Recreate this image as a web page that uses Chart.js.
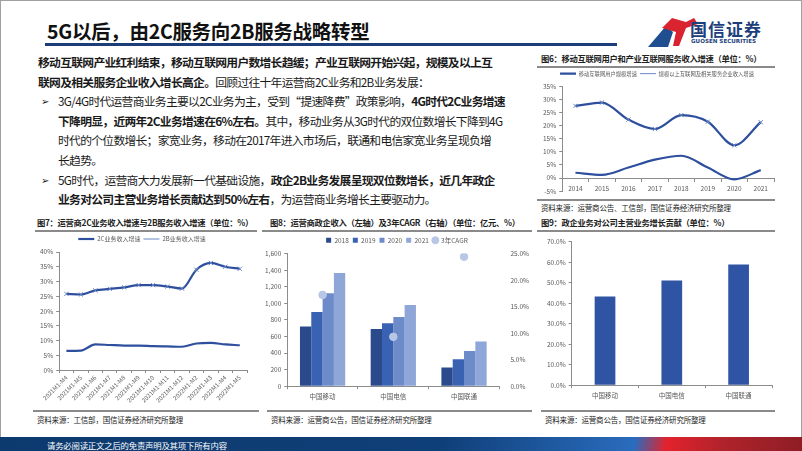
<!DOCTYPE html>
<html>
<head>
<meta charset="utf-8">
<script src="https://cdn.jsdelivr.net/npm/chart.js@4.4.0/dist/chart.umd.min.js"></script>
<style>
  html, body { margin: 0; padding: 0; }
  body { width: 802px; height: 451px; position: relative; overflow: hidden; background: #fff;
         font-family: 'Noto Sans CJK SC', 'Noto Sans', sans-serif; color: #1a1a1a; }
  .frame { position: absolute; left: 0; top: 0; width: 800px; height: 449px; border: 1px solid #a0a0a0; }
  .abs { position: absolute; }
  .title { left: 47px; top: 16px; font-size: 19.5px; font-weight: bold; color: #111; letter-spacing: -0.3px; }
  .title-line { left: 45px; top: 43px; width: 572px; height: 3px; background: #1d3d78; }
  .body-text { left: 38px; top: 52px; font-size: 11.8px; letter-spacing: -0.72px; line-height: 19.6px; white-space: nowrap; }
  .body-text .ind { padding-left: 20px; position: relative; }
  .body-text .bul { position: absolute; left: 3px; top: 0; font-size: 10px; }
  .ftitle { font-size: 8.3px; font-weight: bold; color: #222; white-space: nowrap; letter-spacing: -0.3px; }
  .hline { height: 1.5px; background: #8a8a8a; }
  .src { font-size: 7.5px; color: #222; white-space: nowrap; letter-spacing: -0.2px; }
  .footer { left: 0; top: 437px; width: 802px; height: 14px;
            background: linear-gradient(100deg, #0d3a6e 0%, #0f3f78 55%, #2a6cbd 79%, #e3222c 83%, #b0232b 90%, #8e1d25 100%); }
  .footer span { position: absolute; left: 47px; top: 2px; font-size: 8.4px; color: #fff; letter-spacing: -0.2px; }
  .chart { position: absolute; }
</style>
</head>
<body>
<div class="frame"></div>

<div class="abs title">5G以后，由2C服务向2B服务战略转型</div>
<div class="abs title-line"></div>

<svg class="abs" style="left:646px;top:14px" width="56" height="34" viewBox="0 0 56 34">
  <polygon points="2,33 20,12 27,18 22,33" fill="#1f4e91"/>
  <polygon points="16,14 26,4 40,8 48,4 52,10 40,14 33,32 27,32 30,18" fill="#d9232e"/>
</svg>
<div class="abs" style="left:690px;top:16px;font-size:17px;font-weight:bold;color:#1d3f7c;letter-spacing:1px">国信证券</div>
<div class="abs" style="left:691px;top:38px;font-size:5.6px;font-weight:bold;color:#1d3f7c;font-family:'DejaVu Sans',sans-serif">GUOSEN SECURITIES</div>

<div class="abs body-text">
  <div><b>移动互联网产业红利结束，移动互联网用户数增长趋缓；产业互联网开始兴起，规模及以上互</b></div>
  <div><b>联网及相关服务企业收入增长高企。</b>回顾过往十年运营商2C业务和2B业务发展：</div>
  <div class="ind"><span class="bul">➢</span>3G/4G时代运营商业务主要以2C业务为主，受到“提速降费”政策影响，<b>4G时代2C业务增速</b></div>
  <div class="ind"><b>下降明显，近两年2C业务增速在6%左右。</b>其中，移动业务从3G时代的双位数增长下降到4G</div>
  <div class="ind">时代的个位数增长；家宽业务，移动在2017年进入市场后，联通和电信家宽业务呈现负增</div>
  <div class="ind">长趋势。</div>
  <div class="ind"><span class="bul">➢</span>5G时代，运营商大力发展新一代基础设施，<b>政企2B业务发展呈现双位数增长，近几年政企</b></div>
  <div class="ind"><b>业务对公司主营业务增长贡献达到50%左右</b>，为运营商业务增长主要驱动力。</div>
</div>

<!-- figure 6 -->
<div class="abs ftitle" style="left:541px;top:52px">图6：移动互联网用户和产业互联网服务收入增速（单位：%）</div>
<div class="abs hline" style="left:537px;top:66px;width:238px"></div>
<div class="chart" style="left:540px;top:68px;width:240px;height:130px"><canvas id="c6"></canvas></div>
<div class="abs hline" style="left:537px;top:199px;width:238px"></div>
<div class="abs src" style="left:541px;top:202px">资料来源：运营商公告、工信部，国信证券经济研究所整理</div>

<!-- figure 7/8/9 -->
<div class="abs ftitle" style="left:37px;top:216px">图7：运营商2C业务收入增速与2B服务收入增速（单位：%）</div>
<div class="abs hline" style="left:35px;top:230px;width:222px"></div>
<div class="abs ftitle" style="left:270px;top:216px">图8：运营商政企收入（左轴）及3年CAGR（右轴）（单位：亿元、%）</div>
<div class="abs hline" style="left:262px;top:230px;width:270px"></div>
<div class="abs ftitle" style="left:541px;top:216px">图9：政企业务对公司主营业务增长贡献（单位：%）</div>
<div class="abs hline" style="left:537px;top:230px;width:238px"></div>

<div class="chart" style="left:35px;top:233px;width:222px;height:172px"><canvas id="c7"></canvas></div>
<div class="chart" style="left:258px;top:233px;width:278px;height:170px"><canvas id="c8"></canvas></div>
<div class="chart" style="left:540px;top:235px;width:240px;height:167px"><canvas id="c9"></canvas></div>

<div class="abs hline" style="left:33px;top:410px;width:226px"></div>
<div class="abs hline" style="left:267px;top:410px;width:265px"></div>
<div class="abs hline" style="left:541px;top:410px;width:234px"></div>
<div class="abs src" style="left:37px;top:414px">资料来源：工信部，国信证券经济研究所整理</div>
<div class="abs src" style="left:271px;top:414px">资料来源：运营商公告，国信证券经济研究所整理</div>
<div class="abs src" style="left:545px;top:414px">资料来源：运营商公告，国信证券经济研究所整理</div>

<div class="abs footer"><span>请务必阅读正文之后的免责声明及其项下所有内容</span></div>

<script>
// ==============================
//  DATA
// ==============================
const YEARS6 = ['2014', '2015', '2016', '2017', '2018', '2019', '2020', '2021'];
const USER_GROWTH = [2.0, 1.2, 4.0, 7.0, 8.5, 4.0, -0.5, 3.0];
const INDUSTRY_REV_GROWTH = [27.5, 28.8, 22.3, 18.7, 24.0, 21.5, 12.5, 21.3];

const PERIODS7 = ['2021M1-M4', '2021M1-M5', '2021M1-M6', '2021M1-M7', '2021M1-M8', '2021M1-M9', '2021M1-M10',
                  '2021M1-M11', '2021M1-M12', '2022M1-M2', '2022M1-M3', '2022M1-M4', '2022M1-M5'];
const GROWTH_2C = [6.5, 6.6, 8.7, 8.5, 8.3, 8.3, 8.1, 8.0, 7.9, 9.0, 9.2, 8.7, 8.4];
const GROWTH_2B = [25.8, 25.6, 27.0, 27.5, 28.0, 28.8, 28.8, 28.3, 27.6, 34.0, 36.3, 35.0, 34.3];

const OPERATORS = ['中国移动', '中国电信', '中国联通'];
const REV_2018 = [720, 690, 225];
const REV_2019 = [895, 760, 325];
const REV_2020 = [1120, 835, 425];
const REV_2021 = [1365, 980, 540];
const CAGR_3Y = [17.2, 9.3, 24.4];

const CONTRIB = [43.3, 51.2, 59.0];

const LINE_BLUE = '#2e4f9e';
const BAR_COLORS = ['#2b4a8c', '#3a62b2', '#6d8bc9', '#8ea6d8'];
const CAGR_COLOR = '#b9c7e6';
const TICK = '#595959';
const AXIS = '#8c8c8c';

Chart.defaults.font.family = "'Noto Sans CJK SC', 'Noto Sans', sans-serif";
Chart.defaults.color = TICK;
Chart.defaults.animation = false;

const tickFont = { size: 6.5 };

function yScale(min, max, step, fmt, extra) {
  return Object.assign({
    min, max,
    ticks: { stepSize: step, font: tickFont, padding: 3, callback: fmt },
    grid: { drawOnChartArea: false, drawTicks: true, tickLength: 3, color: AXIS },
    border: { display: true, color: AXIS, width: 1 }
  }, extra || {});
}

const lineLegend = size => ({
  labels: { font: { size }, usePointStyle: true, pointStyle: 'line', pointStyleWidth: 16, boxHeight: 2, padding: 3 }
});

// ==============================
//  FIG 6
// ==============================
new Chart(document.getElementById('c6'), {
  type: 'line',
  data: {
    labels: YEARS6,
    datasets: [
      { label: '移动互联网用户规模增速', data: USER_GROWTH, borderColor: LINE_BLUE, borderWidth: 2.2,
        pointRadius: 0, tension: 0.4, cubicInterpolationMode: 'monotone' },
      { label: '规模以上互联网及相关服务企业收入增速', data: INDUSTRY_REV_GROWTH, borderColor: LINE_BLUE,
        borderWidth: 2.2, pointStyle: 'crossRot', pointRadius: 3, pointBorderColor: '#6b86c4',
        pointBorderWidth: 1, tension: 0.4, cubicInterpolationMode: 'monotone' }
    ]
  },
  options: {
    responsive: true, maintainAspectRatio: false,
    layout: { padding: { left: 0, right: 6, top: 0, bottom: 2 } },
    plugins: { legend: lineLegend(5.3), tooltip: { enabled: false } },
    scales: {
      x: { position: { y: 0 }, offset: true,
           ticks: { font: tickFont, padding: 4 },
           grid: { drawOnChartArea: false, offset: true, tickLength: 3, color: AXIS },
           border: { display: true, color: AXIS } },
      y: yScale(-5, 35, 5, v => v + '%')
    }
  }
});

// ==============================
//  FIG 7
// ==============================
new Chart(document.getElementById('c7'), {
  type: 'line',
  data: {
    labels: PERIODS7,
    datasets: [
      { label: '2C业务收入增速', data: GROWTH_2C, borderColor: LINE_BLUE, borderWidth: 2.2,
        pointRadius: 0, tension: 0.4, cubicInterpolationMode: 'monotone' },
      { label: '2B业务收入增速', data: GROWTH_2B, borderColor: LINE_BLUE, borderWidth: 2.2,
        pointStyle: 'crossRot', pointRadius: 3, pointBorderColor: '#6b86c4', pointBorderWidth: 1,
        tension: 0.4, cubicInterpolationMode: 'monotone' }
    ]
  },
  options: {
    responsive: true, maintainAspectRatio: false,
    layout: { padding: { left: 2, right: 10, top: 0, bottom: 0 } },
    plugins: { legend: lineLegend(6), tooltip: { enabled: false } },
    scales: {
      x: { offset: true,
           ticks: { font: { size: 6 }, maxRotation: 45, minRotation: 45, autoSkip: false, padding: 1 },
           grid: { drawOnChartArea: false, offset: true, tickLength: 3, color: AXIS },
           border: { display: true, color: AXIS } },
      y: yScale(0, 40, 5, v => v + '%')
    }
  }
});

// ==============================
//  FIG 8
// ==============================
const barSets = [REV_2018, REV_2019, REV_2020, REV_2021].map((d, i) => ({
  type: 'bar', label: String(2018 + i), data: d, backgroundColor: BAR_COLORS[i],
  categoryPercentage: 0.64, barPercentage: 1, yAxisID: 'y', order: 2,
  pointStyle: 'rect'
}));

new Chart(document.getElementById('c8'), {
  type: 'bar',
  data: {
    labels: OPERATORS,
    datasets: [...barSets,
      { type: 'line', label: '3年CAGR', data: CAGR_3Y, showLine: false, yAxisID: 'y1', order: 1,
        pointStyle: 'circle', pointRadius: 3.8, backgroundColor: CAGR_COLOR, borderColor: CAGR_COLOR }]
  },
  options: {
    responsive: true, maintainAspectRatio: false,
    layout: { padding: { left: 4, right: 4, top: 0, bottom: 0 } },
    plugins: {
      legend: { labels: { font: { size: 6.5 }, usePointStyle: true, boxWidth: 5, boxHeight: 5, padding: 4,
                          sort: (a, b) => a.datasetIndex - b.datasetIndex } },
      tooltip: { enabled: false }
    },
    scales: {
      x: { ticks: { font: tickFont, padding: 3 },
           grid: { drawOnChartArea: false, offset: true, tickLength: 3, color: AXIS },
           border: { display: true, color: AXIS } },
      y: yScale(0, 1600, 200, v => v.toLocaleString('en-US'), { position: 'left' }),
      y1: yScale(0, 25, 5, v => v.toFixed(1) + '%', { position: 'right', border: { display: false },
                                                      grid: { display: false } })
    }
  }
});

// ==============================
//  FIG 9
// ==============================
new Chart(document.getElementById('c9'), {
  type: 'bar',
  data: {
    labels: OPERATORS,
    datasets: [{ label: '贡献', data: CONTRIB, backgroundColor: '#2f54a3',
                 categoryPercentage: 1, barPercentage: 0.31 }]
  },
  options: {
    responsive: true, maintainAspectRatio: false,
    layout: { padding: { left: 4, right: 8, top: 6, bottom: 0 } },
    plugins: { legend: { display: false }, tooltip: { enabled: false } },
    scales: {
      x: { ticks: { font: tickFont, padding: 3 },
           grid: { drawOnChartArea: false, offset: true, tickLength: 3, color: AXIS },
           border: { display: true, color: AXIS } },
      y: yScale(0, 70, 10, v => v.toFixed(1) + '%')
    }
  }
});
</script>
</body>
</html>
